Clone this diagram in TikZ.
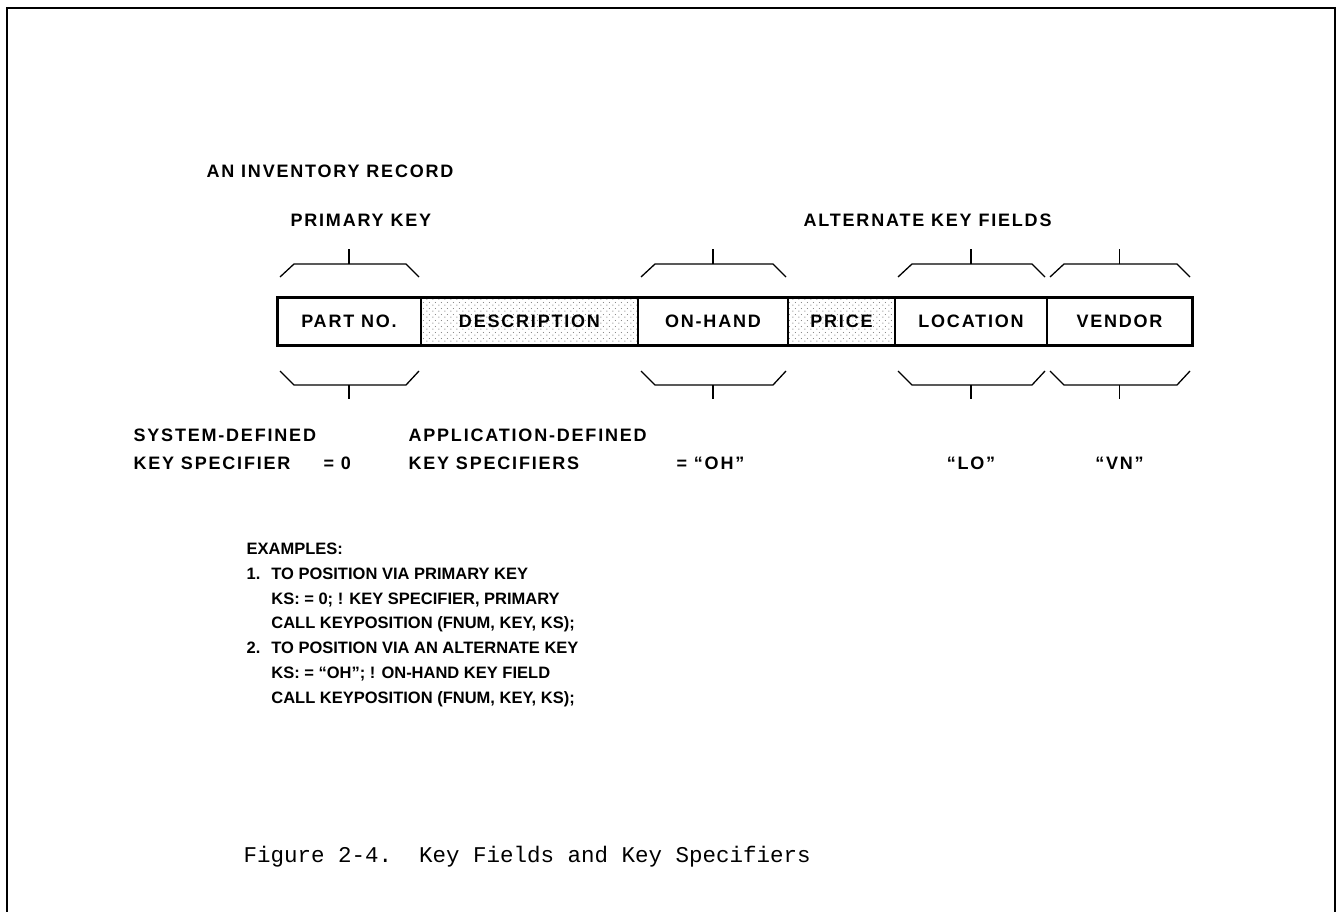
\documentclass[tikz,border=0pt]{standalone}
\usepackage{fontspec}
\setmonofont{Liberation Mono}
\newfontfamily\recfont{Liberation Sans}[LetterSpace=10]
\newfontfamily\exfont{Liberation Sans}
\usetikzlibrary{positioning,calc,patterns}
\tikzset{every picture/.style={line width=1.2pt}}

% loose stipple for the non-key fields
\pgfdeclarepatternformonly{stipple}{\pgfpointorigin}{\pgfpoint{6pt}{6pt}}{\pgfpoint{6pt}{6pt}}{%
  \pgfpathcircle{\pgfpoint{1pt}{1pt}}{0.6pt}%
  \pgfpathcircle{\pgfpoint{4pt}{4pt}}{0.6pt}%
  \pgfusepath{fill}}

\begin{document}
\begin{tikzpicture}[x=1pt, y=-1pt,
    every node/.style={inner sep=0pt, font=\recfont\bfseries\fontsize{18}{28}\selectfont},
    field/.style={draw, line width=1.5pt, outer sep=0pt, minimum height=48pt},
    dotted field/.style={field, pattern=stipple, pattern color=black!55},
    rim/.style={line width=3pt},
    brace/.style={line width=1.3pt}]
    \useasboundingbox (0,0) rectangle (1341,912);
    % frame, open at the bottom
    \draw[line width=2.4pt] (7,912) -- (7,8) -- (1335,8) -- (1335,912);

    % the record
    \node[field, minimum width=144pt] (partno) at (349,321) {PART NO.};
    \node[dotted field, minimum width=217pt, right=0pt of partno] (descr) {DESCRIPTION};
    \node[field, minimum width=150pt, right=0pt of descr] (onhand) {ON-HAND};
    \node[dotted field, minimum width=107pt, right=0pt of onhand] (price) {PRICE};
    \node[field, minimum width=152pt, right=0pt of price] (location) {LOCATION};
    \node[field, minimum width=145pt, right=0pt of location] (vendor) {VENDOR};
    \draw[rim] (partno.north west) rectangle (vendor.south east);

    % braces above and below each key field
    \foreach \f in {partno, onhand, location, vendor} {
        \draw[brace] ($(\f.north west)+(3,-20)$) -- ($(\f.north west)+(17,-33)$)
            -- ($(\f.north east)+(-15,-33)$) -- ($(\f.north east)+(-2,-20)$);
        \draw[brace] ($(\f.north)+(0,-33)$) -- ($(\f.north)+(0,-48)$);
        \draw[brace] ($(\f.south west)+(3,26)$) -- ($(\f.south west)+(17,40)$)
            -- ($(\f.south east)+(-15,40)$) -- ($(\f.south east)+(-2,26)$);
        \draw[brace] ($(\f.south)+(0,40)$) -- ($(\f.south)+(0,54)$);
    }

    % labels
    \node[anchor=base west] (title) at (206,178) {AN INVENTORY RECORD};
    \node[anchor=base west] (pklabel) at (290,226) {PRIMARY KEY};
    \node[anchor=base west] (aklabel) at (803,226) {ALTERNATE KEY FIELDS};
    \node[anchor=base west, align=left] (syslabel) at (133,469) {SYSTEM-DEFINED\\KEY SPECIFIER};
    \node[anchor=base west] (syseq) at (323,469) {= 0};
    \node[anchor=base west, align=left] (applabel) at (408,469) {APPLICATION-DEFINED\\KEY SPECIFIERS};
    \node[anchor=base west] (oheq) at (676,469) {= “OH”};
    \node[anchor=base] (loval) at (location.south |- 0,469) {“LO”};
    \node[anchor=base] (vnval) at (vendor.south |- 0,469) {“VN”};

    % examples
    \node[anchor=north west, font=\exfont\bfseries\fontsize{16.5}{24.7}\selectfont] (examples) at (246,537) {%
        \begin{tabular}{@{}l@{\hspace{11pt}}l@{}}
        \multicolumn{2}{@{}l}{EXAMPLES:}\\
        1. & TO POSITION VIA PRIMARY KEY\\
           & KS: = 0; ! KEY SPECIFIER, PRIMARY\\
           & CALL KEYPOSITION (FNUM, KEY, KS);\\
        2. & TO POSITION VIA AN ALTERNATE KEY\\
           & KS: = “OH”; ! ON-HAND KEY FIELD\\
           & CALL KEYPOSITION (FNUM, KEY, KS);
        \end{tabular}};

    \node[anchor=base west, font=\ttfamily\fontsize{22.5}{22.5}\selectfont] (caption) at (243,862)
        {Figure 2-4.\ \ Key Fields and Key Specifiers};
\end{tikzpicture}
\end{document}
